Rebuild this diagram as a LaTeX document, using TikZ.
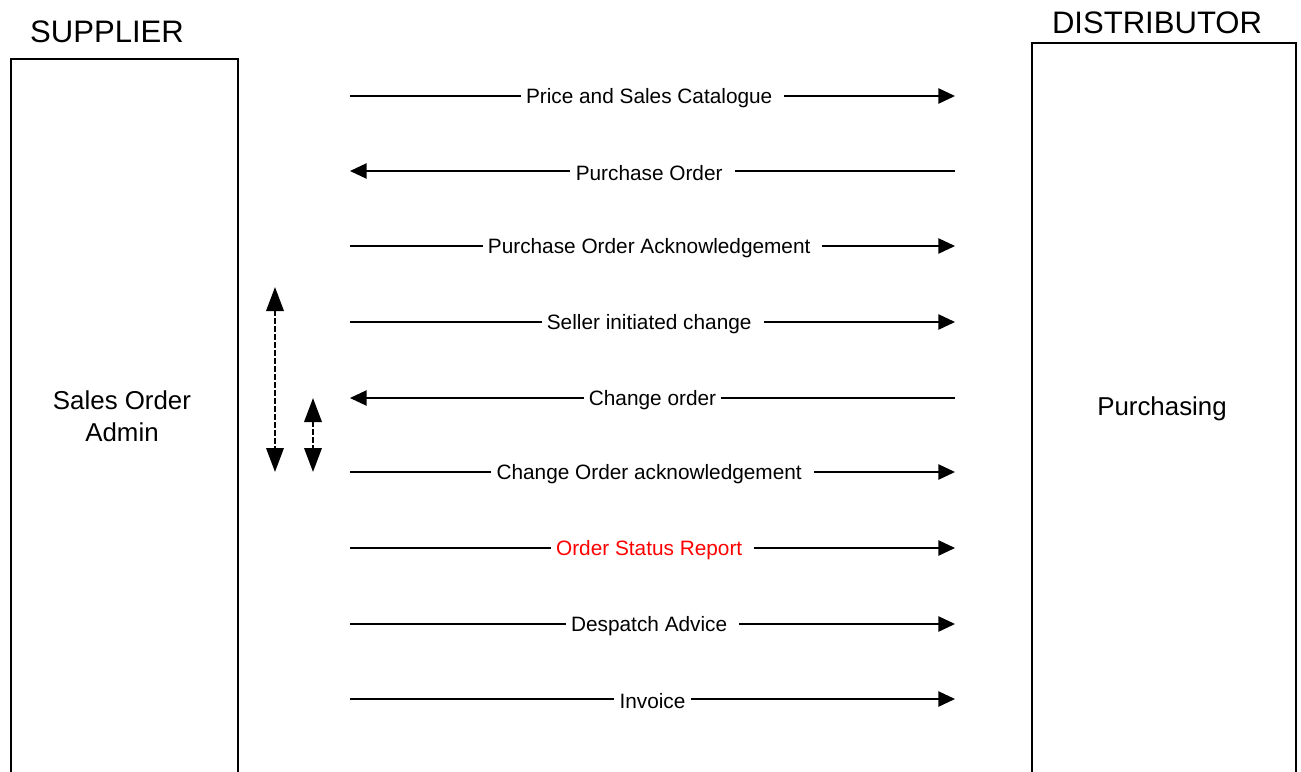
\documentclass[tikz,border=0pt]{standalone}
\usepackage{fontspec}
\setmainfont{Liberation Sans}
\usepackage{xcolor}
\usepackage{tikz}
\usetikzlibrary{arrows.meta}
\definecolor{statusred}{RGB}{255,0,0}
\newcommand{\tailgap}{\hspace*{5pt}}

\begin{document}
\begin{tikzpicture}[x=0.75pt, y=-0.75pt,
  every node/.style={inner sep=2pt},
  party/.style={draw, line width=1.4pt, anchor=north west},
  title/.style={font=\fontsize{23.3}{28}\selectfont, anchor=base},
  role/.style={font=\fontsize{19.4}{24}\selectfont, align=center},
  lbl/.style={font=\fontsize{15.6}{18}\selectfont, fill=white,
              inner xsep=4pt, inner ysep=1pt, yshift=-1.5pt},
  msg/.style={-{Triangle[length=12.5pt,width=11.5pt]}, line width=1.1pt},
  span/.style={{Triangle[length=18pt,width=13pt]}-{Triangle[length=18pt,width=13pt]},
               line width=1.9pt, dash pattern=on 4pt off 2pt}]
\clip (0,0) rectangle (1301,771);
\fill[white] (0,0) rectangle (1301,771);

% parties
\node[title] (supplier) at (107,42) {SUPPLIER};
\node[title] (distributor) at (1157,33) {DISTRIBUTOR};
\node[party, minimum width=170pt, minimum height=560pt] (sbox) at (10,58) {};
\node[party, minimum width=198pt, minimum height=572pt] (dbox) at (1031,42) {};
\node[role] (admin) at (122,416) {Sales Order\\Admin};
\node[role] (purch) at (1162,409) {Purchasing};

% message ends
\coordinate (cat-s) at (350,96);  \coordinate (cat-d) at (955,96);
\coordinate (po-s) at (350,171);  \coordinate (po-d) at (955,171);
\coordinate (poa-s) at (350,246); \coordinate (poa-d) at (955,246);
\coordinate (sic-s) at (350,322); \coordinate (sic-d) at (955,322);
\coordinate (co-s) at (350,398);  \coordinate (co-d) at (955,398);
\coordinate (coa-s) at (350,472); \coordinate (coa-d) at (955,472);
\coordinate (osr-s) at (350,548); \coordinate (osr-d) at (955,548);
\coordinate (da-s) at (350,624);  \coordinate (da-d) at (955,624);
\coordinate (inv-s) at (350,699); \coordinate (inv-d) at (955,699);

\draw[msg] (cat-s) -- (cat-d) node[lbl, midway] {Price and Sales Catalogue\tailgap};
\draw[msg] (po-d) -- (po-s) node[lbl, midway] {Purchase Order\tailgap};
\draw[msg] (poa-s) -- (poa-d) node[lbl, midway] {Purchase Order Acknowledgement\tailgap};
\draw[msg] (sic-s) -- (sic-d) node[lbl, midway] {Seller initiated change\tailgap};
\draw[msg] (co-d) -- (co-s) node[lbl, midway] {Change order};
\draw[msg] (coa-s) -- (coa-d) node[lbl, midway] {Change Order acknowledgement\tailgap};
\draw[msg] (osr-s) -- (osr-d) node[lbl, midway, text=statusred] {Order Status Report\tailgap};
\draw[msg] (da-s) -- (da-d) node[lbl, midway] {Despatch Advice\tailgap};
\draw[msg] (inv-s) -- (inv-d) node[lbl, midway] {Invoice};

% change cycle
\coordinate (cyc-top) at (275,287);  \coordinate (cyc-bot) at (275,472);
\coordinate (ack-top) at (313,398);  \coordinate (ack-bot) at (313,472);
\draw[span] (cyc-top) -- (cyc-bot);
\draw[span] (ack-top) -- (ack-bot);
\end{tikzpicture}
\end{document}
